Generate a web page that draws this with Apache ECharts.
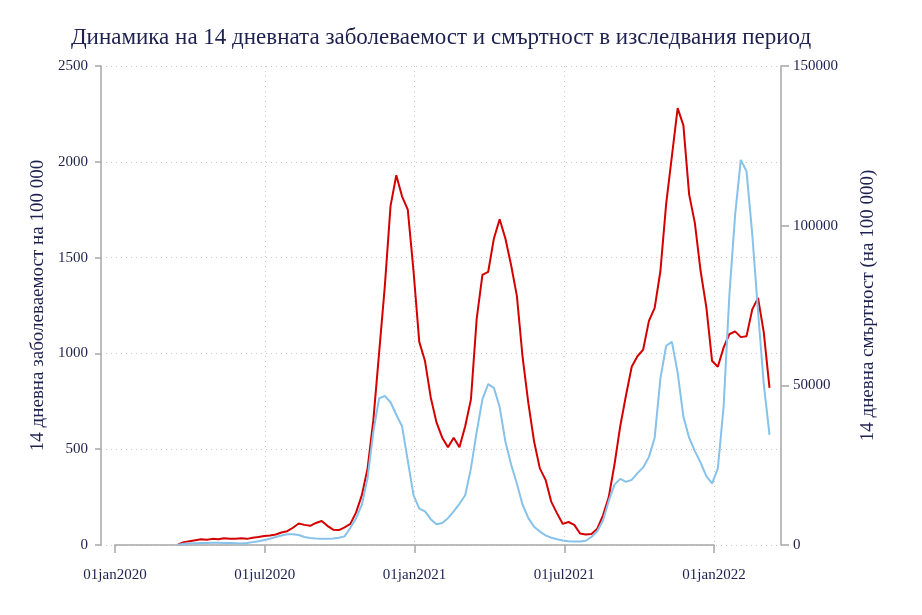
<!DOCTYPE html>
<html>
<head>
<meta charset="UTF-8">
<title>Динамика</title>
<style>
  * { margin: 0; padding: 0; }
  body { background: #fff; }
  #main { width: 922px; height: 615px; }
</style>
<script src="https://cdn.jsdelivr.net/npm/echarts@6/dist/echarts.min.js"></script>
</head>
<body>
<div id="main"></div>
<script>
// weekly readings, first one on startDate
var startDate = '2020-03-18';
var stepDays = 7;
// 14 дневна заболеваемост (left axis)
var incidence = [3, 15, 20, 25, 30, 28, 32, 30, 35, 33,
  32, 35, 32, 38, 42, 47, 50, 55, 65, 72,
  90, 112, 105, 100, 115, 125, 100, 80, 78, 92,
  110, 170, 260, 400, 650, 1000, 1350, 1770, 1930, 1820,
  1750, 1430, 1060, 960, 770, 640, 560, 510, 560, 510,
  620, 760, 1180, 1410, 1425, 1600, 1700, 1600, 1460, 1300,
  980, 740, 540, 400, 340, 225, 165, 110, 120, 105,
  60, 55, 58, 85, 155, 250, 420, 620, 780, 930,
  985, 1020, 1170, 1238, 1430, 1780, 2030, 2280, 2190, 1830,
  1680, 1430, 1240, 960, 930, 1030, 1100, 1115, 1085, 1090,
  1230, 1290, 1110, 820];
// 14 дневна смъртност (right axis)
var mortality = [120, 360, 480, 540, 600, 660, 720, 720, 660, 600,
  540, 480, 600, 900, 1200, 1560, 1980, 2520, 3000, 3360,
  3360, 3120, 2520, 2160, 2040, 1980, 1980, 2040, 2280, 2700,
  5400, 8400, 12600, 21000, 35400, 45900, 46680, 44700, 40800, 37200,
  26400, 15600, 11400, 10500, 8100, 6480, 6900, 8400, 10500, 12900,
  15600, 24000, 35400, 45600, 50400, 49200, 43200, 32400, 25200, 19200,
  12600, 8400, 5700, 4200, 3000, 2280, 1800, 1440, 1200, 1080,
  1080, 1320, 2520, 4320, 7680, 13800, 18900, 20700, 19800, 20400,
  22500, 24300, 27600, 33600, 52200, 62400, 63600, 54000, 40200, 33600,
  29400, 25800, 21600, 19320, 24000, 43200, 78000, 103200, 120600, 117000,
  97200, 73200, 50400, 34500];
// x axis tick labels (half-year steps)
var dateTicks = ['01jan2020', '01jul2020', '01jan2021', '01jul2021', '01jan2022'];

var navy = '#1d2150';
var font = 'Liberation Serif';
var DAY = 86400000;

function ts(s) { return new Date(s + 'T00:00:00').getTime(); }

var t0 = ts(startDate);
var redData = [], blueData = [];
for (var i = 0; i < incidence.length; i++) {
  var t = t0 + i * stepDays * DAY;
  redData.push([t, incidence[i]]);
  blueData.push([t, mortality[i]]);
}
function plain(v) { return '' + v; }

var myChart = echarts.init(document.getElementById('main'));
var option = {
  backgroundColor: '#fff',
  animation: false,
  title: {
    text: 'Динамика на 14 дневната заболеваемост и смъртност в изследвания период',
    left: 436,
    top: 21,
    textAlign: 'center',
    textStyle: { fontFamily: font, fontSize: 23, fontWeight: 'normal', color: navy }
  },
  grid: [
    { left: 101, right: 141, top: 66, bottom: 70 },
    { left: 115, right: 208, top: 66, bottom: 70 }
  ],
  xAxis: [
    {
      gridIndex: 0, type: 'time', show: false,
      min: ts('2019-12-15'), max: ts('2022-03-23')
    },
    {
      gridIndex: 1, type: 'category', position: 'bottom', offset: 14,
      data: dateTicks, boundaryGap: false,
      axisLine: { show: true, lineStyle: { color: '#a6a6a6', width: 1.5 } },
      axisTick: { show: true, length: 8, lineStyle: { color: '#a6a6a6', width: 1.5 } },
      axisLabel: { fontFamily: font, fontSize: 15, color: navy, margin: 9, interval: 0 },
      splitLine: { show: true, interval: 0, showMinLine: false, showMaxLine: true, lineStyle: { type: [1, 4], color: '#c8c8c8', width: 1 } }
    }
  ],
  yAxis: [
    {
      gridIndex: 0, type: 'value', position: 'left',
      min: 0, max: 2500, interval: 500,
      name: '14 дневна заболеваемост на 100 000',
      nameLocation: 'middle', nameRotate: 90, nameGap: 43,
      nameTextStyle: { fontFamily: font, fontSize: 19, color: navy },
      axisLine: { show: true, lineStyle: { color: '#a6a6a6', width: 1.5 } },
      axisTick: { show: true, length: 6, lineStyle: { color: '#a6a6a6', width: 1.5 } },
      axisLabel: { formatter: plain, fontFamily: font, fontSize: 15, color: navy, margin: 13 },
      splitLine: { show: true, lineStyle: { type: [1, 4], color: '#c8c8c8', width: 1 } }
    },
    {
      gridIndex: 0, type: 'value', position: 'right',
      min: 0, max: 150000, interval: 50000,
      name: '14 дневна смъртност (на 100 000)',
      nameLocation: 'middle', nameRotate: 90, nameGap: 78,
      nameTextStyle: { fontFamily: font, fontSize: 19, color: navy },
      axisLine: { show: true, lineStyle: { color: '#a6a6a6', width: 1.5 } },
      axisTick: { show: true, length: 8, lineStyle: { color: '#a6a6a6', width: 1.5 } },
      axisLabel: { formatter: plain, fontFamily: font, fontSize: 15, color: navy, margin: 12 },
      splitLine: { show: false }
    },
    { gridIndex: 1, type: 'value', show: false, min: 0, max: 1 }
  ],
  series: [
    {
      name: 'заболеваемост', type: 'line', xAxisIndex: 0, yAxisIndex: 0,
      data: redData, showSymbol: false, silent: true,
      lineStyle: { color: '#d40000', width: 2 }
    },
    {
      name: 'смъртност', type: 'line', xAxisIndex: 0, yAxisIndex: 1,
      data: blueData, showSymbol: false, silent: true,
      lineStyle: { color: '#86c2ea', width: 2 }
    }
  ]
};
myChart.setOption(option);
</script>
</body>
</html>
